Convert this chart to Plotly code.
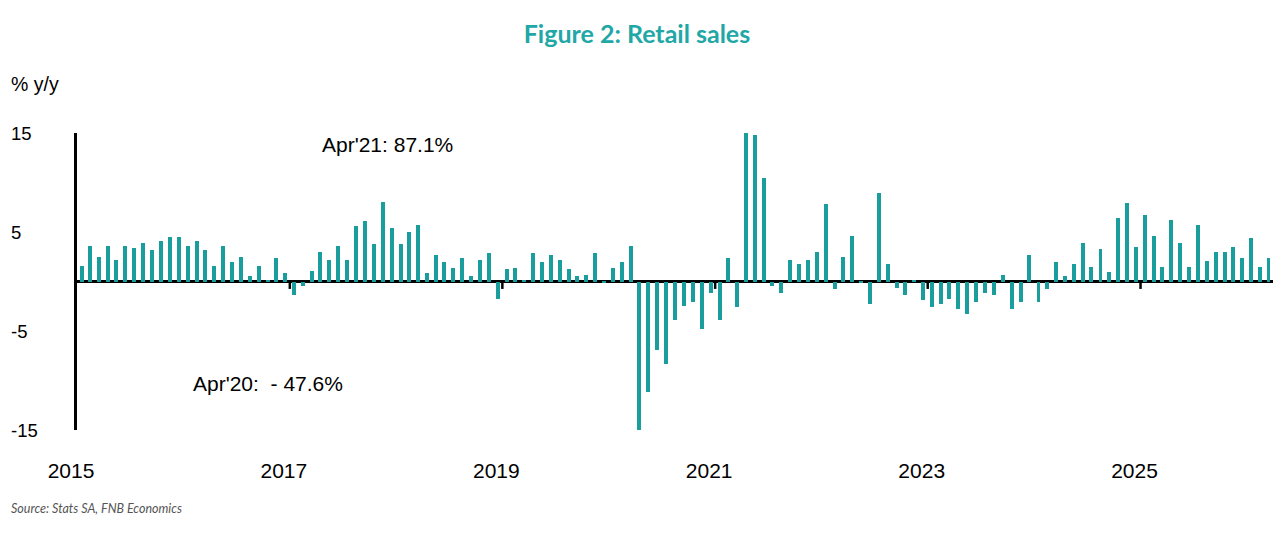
import pandas as pd
import plotly.graph_objects as go

# retail sales, % y/y, monthly from Jan 2015
y2015 = [1.6, 3.6, 2.5, 3.6, 2.2, 3.6, 3.4, 3.9, 3.2, 4.1, 4.5, 4.5]
y2016 = [3.6, 4.1, 3.2, 1.6, 3.6, 2.0, 2.5, 0.6, 1.6, 0.2, 2.4, 0.9]
y2017 = [-1.4, -0.5, 1.1, 3.0, 2.2, 3.6, 2.2, 5.6, 6.1, 3.8, 8.0, 5.4]
y2018 = [3.8, 5.0, 5.7, 0.9, 2.7, 2.0, 1.4, 2.4, 0.6, 2.2, 2.9, -1.8]
y2019 = [1.3, 1.4, 0.2, 2.9, 2.0, 2.7, 2.2, 1.3, 0.6, 0.7, 2.9, -0.2]
y2020 = [1.4, 2.0, 3.6, -47.6, -11.2, -6.9, -8.3, -3.9, -2.5, -2.1, -4.8, -1.2]
y2021 = [-3.9, 2.4, -2.6, 87.1, 14.8, 10.5, -0.5, -1.2, 2.2, 1.8, 2.2, 3.0]
y2022 = [7.8, -0.8, 2.5, 4.6, -0.1, -2.3, 8.9, 1.8, -0.7, -1.4, 0.2, -1.9]
y2023 = [-2.6, -2.3, -1.8, -2.8, -3.3, -2.1, -1.2, -1.4, 0.7, -2.8, -2.1, 2.7]
y2024 = [-2.1, -0.8, 2.0, 0.6, 1.8, 3.9, 1.5, 3.3, 1.0, 6.4, 7.9, 3.5]
y2025 = [6.7, 4.6, 1.5, 6.2, 3.9, 1.5, 5.7, 2.1, 3.0, 3.0, 3.5, 2.4]
y2026 = [4.4, 1.5, 2.4]

ytick_vals = [15, 5, -5, -15]
zero_tick_years = [2017, 2019, 2021, 2023, 2025]

values = (y2015 + y2016 + y2017 + y2018 + y2019 + y2020 + y2021
          + y2022 + y2023 + y2024 + y2025 + y2026)
months = pd.date_range("2015-01-01", periods=len(values), freq="MS")
end = months[-1] + pd.offsets.MonthBegin(1)

teal = "#1a9d9d"
left_x = -0.0565  # left edge of the figure, in paper units

fig = go.Figure()
fig.add_trace(go.Bar(
    x=months, y=values,
    xperiod="M1", xperiodalignment="middle",
    width=0.45 * 30.4 * 24 * 3600 * 1000,
    marker=dict(color=teal, line=dict(width=0)),
    showlegend=False,
))

# small ticks hanging off the zero line
for yr in zero_tick_years:
    fig.add_shape(type="line", xref="x", yref="y",
                  x0=f"{yr}-01-01", x1=f"{yr}-01-01", y0=0, y1=-0.75,
                  line=dict(color="black", width=2.5))

# y tick labels, left aligned
for v in ytick_vals:
    fig.add_annotation(text=str(v), xref="paper", yref="y", x=left_x, y=v,
                       xanchor="left", yanchor="middle", showarrow=False,
                       font=dict(size=18.5, color="black"))

fig.add_annotation(text="% y/y", xref="paper", yref="paper", x=left_x, y=1.165,
                   xanchor="left", yanchor="middle", showarrow=False,
                   font=dict(size=19.5, color="black"))
fig.add_annotation(text="Apr'21: 87.1%", xref="paper", yref="paper", x=0.203, y=0.96,
                   xanchor="left", yanchor="middle", showarrow=False,
                   font=dict(size=21, color="black"))
fig.add_annotation(text="Apr'20:  - 47.6%", xref="paper", yref="paper", x=0.0955, y=0.158,
                   xanchor="left", yanchor="middle", showarrow=False,
                   font=dict(size=21, color="black"))
fig.add_annotation(text="<i>Source: Stats SA, FNB Economics</i>", xref="paper", yref="paper",
                   x=left_x, y=-0.264, xanchor="left", yanchor="middle", showarrow=False,
                   font=dict(size=12.5, color="#555555", family="Lato"))

fig.update_layout(
    width=1281, height=545,
    margin=dict(l=69, r=16, t=125, b=123),
    paper_bgcolor="white", plot_bgcolor="white",
    font=dict(family="Liberation Sans, Arial", color="black"),
    title=dict(text="<b>Figure 2: Retail sales</b>", x=0.491, xref="container",
               y=1 - 26 / 545, yanchor="middle", xanchor="center",
               font=dict(family="Lato", size=25, color="#22a7a7")),
    xaxis=dict(
        range=[months[0], end],
        tick0="2015-01-01", dtick="M24", tickformat="%Y",
        showgrid=False, showline=False, zeroline=False,
        ticks="", ticklabelstandoff=26, ticklabelshift=-6,
        tickfont=dict(size=21),
    ),
    yaxis=dict(
        range=[-15, 15], tickvals=ytick_vals, showticklabels=False,
        showgrid=False, showline=True, linecolor="black", linewidth=2.5,
        zeroline=True, zerolinecolor="black", zerolinewidth=2.5,
        ticks="",
    ),
    bargap=0,
)

fig.write_html("out.html")
